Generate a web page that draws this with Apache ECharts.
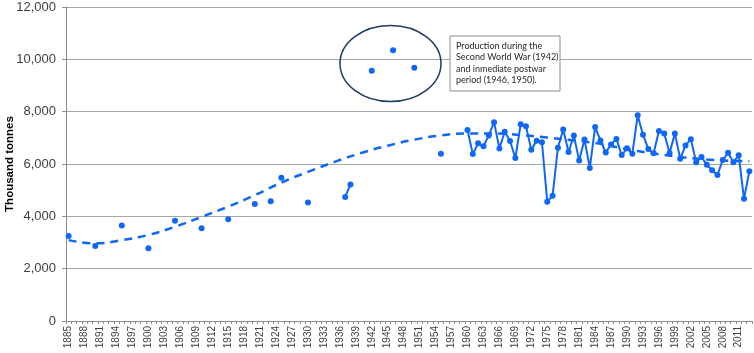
<!DOCTYPE html>
<html><head><meta charset="utf-8">
<script src="https://cdn.jsdelivr.net/npm/echarts@6/dist/echarts.min.js"></script>
<style>html,body{margin:0;padding:0;background:#fff}#c{width:754px;height:353px}</style>
</head><body><div id="c"></div>
<script>
var firstYear = 1885, lastYear = 2013;
var years = [];
for (var y = firstYear; y <= lastYear; y++) years.push(String(y));

var prodYears = [1885,1890,1895,1900,1905,1910,1915,1920,1923,1925,1930,1937,1938,1942,1946,1950,1955,
  1960,1961,1962,1963,1964,1965,1966,1967,1968,1969,1970,1971,1972,1973,1974,1975,1976,1977,1978,1979,
  1980,1981,1982,1983,1984,1985,1986,1987,1988,1989,1990,1991,1992,1993,1994,1995,1996,1997,1998,1999,
  2000,2001,2002,2003,2004,2005,2006,2007,2008,2009,2010,2011,2012,2013];
var prodValues = [3250,2870,3650,2780,3830,3540,3890,4470,4580,5470,4530,4740,5220,9560,10350,9680,6390,
  7300,6380,6790,6680,7090,7600,6590,7230,6880,6230,7520,7440,6540,6890,6830,4560,4790,6620,7320,6460,
  7090,6130,6940,5850,7410,6900,6440,6750,6960,6340,6600,6390,7860,7120,6570,6410,7260,7170,6420,7170,
  6200,6710,6950,6070,6270,5970,5760,5580,6150,6430,6070,6330,4670,5720];

var trendYears = [1885,1890,1895,1900,1905,1910,1915,1920,1925,1930,1935,1940,1945,1950,1955,1960,1965,1970,1975,1980,1985,1990,1995,2000,2005,2010,2013];
var trendValues = [3090,2970,3090,3290,3600,3980,4370,4810,5290,5700,6080,6420,6700,6930,7090,7170,7170,7110,7010,6900,6770,6560,6400,6270,6170,6120,6110];

var yTicks = [0,2000,4000,6000,8000,10000,12000];
var yName = 'Thousand tonnes';
var noteLines = ['Production during the','Second World War (1942)','and inmediate postwar','period (1946, 1950).'];

function toSeries(ys, vs) {
  var arr = years.map(function(){ return null; });
  ys.forEach(function(yr, i){ arr[yr - firstYear] = vs[i]; });
  return arr;
}

var blue = '#0f67f5';
var chart = echarts.init(document.getElementById('c'), null, {renderer: 'canvas'});
chart.setOption({
  animation: false,
  grid: {left: 66, right: 2, top: 7, bottom: 32, containLabel: false, outerBoundsMode: 'none'},
  xAxis: {
    type: 'category', data: years, boundaryGap: true,
    axisLine: {lineStyle: {color: '#8c8c8c', width: 1}},
    axisTick: {show: true, interval: 0, length: 3, lineStyle: {color: '#8c8c8c'}},
    axisLabel: {interval: 2, rotate: 90, fontSize: 10, color: '#404040', fontFamily: 'Liberation Sans, Arial', margin: 5, hideOverlap: false}
  },
  yAxis: {
    type: 'value', min: yTicks[0], max: yTicks[yTicks.length-1], interval: 2000,
    name: yName, nameLocation: 'middle', nameGap: 50, nameRotate: 90, nameMoveOverlap: false,
    nameTextStyle: {fontSize: 11.5, fontWeight: 'bold', color: '#000', fontFamily: 'Liberation Sans, Arial'},
    axisLine: {show: true, lineStyle: {color: '#8c8c8c'}},
    axisTick: {show: true, length: 4, lineStyle: {color: '#8c8c8c'}},
    axisLabel: {fontSize: 13, color: '#404040', fontFamily: 'Liberation Sans, Arial', margin: 10,
      formatter: function(v){ return v.toLocaleString('en-US'); }},
    splitLine: {lineStyle: {color: '#a6a6a6', width: 1}}
  },
  series: [
    {type: 'line', data: toSeries(trendYears, trendValues), connectNulls: true, smooth: true,
     showSymbol: false, lineStyle: {color: blue, width: 2.5, type: [8, 6]}, z: 2},
    {type: 'line', data: toSeries(prodYears, prodValues), connectNulls: false,
     symbol: 'circle', symbolSize: 6, showSymbol: true, showAllSymbol: true,
     itemStyle: {color: blue}, lineStyle: {color: blue, width: 2}, z: 3}
  ],
  graphic: [
    {type: 'ellipse', shape: {cx: 390.5, cy: 63.5, rx: 50.5, ry: 38},
     style: {fill: 'none', stroke: '#1f3a64', lineWidth: 1.5}, z: 10},
    {type: 'rect', shape: {x: 450, y: 36, width: 110, height: 55},
     style: {fill: '#fff', stroke: '#8c8c8c', lineWidth: 1}, z: 10},
    {type: 'text', left: 456, top: 40, z: 11,
     style: {text: noteLines.join('\n'), fontSize: 9, lineHeight: 11.5, fill: '#262626', fontFamily: 'Lato, Liberation Sans'}}
  ]
});
</script></body></html>
